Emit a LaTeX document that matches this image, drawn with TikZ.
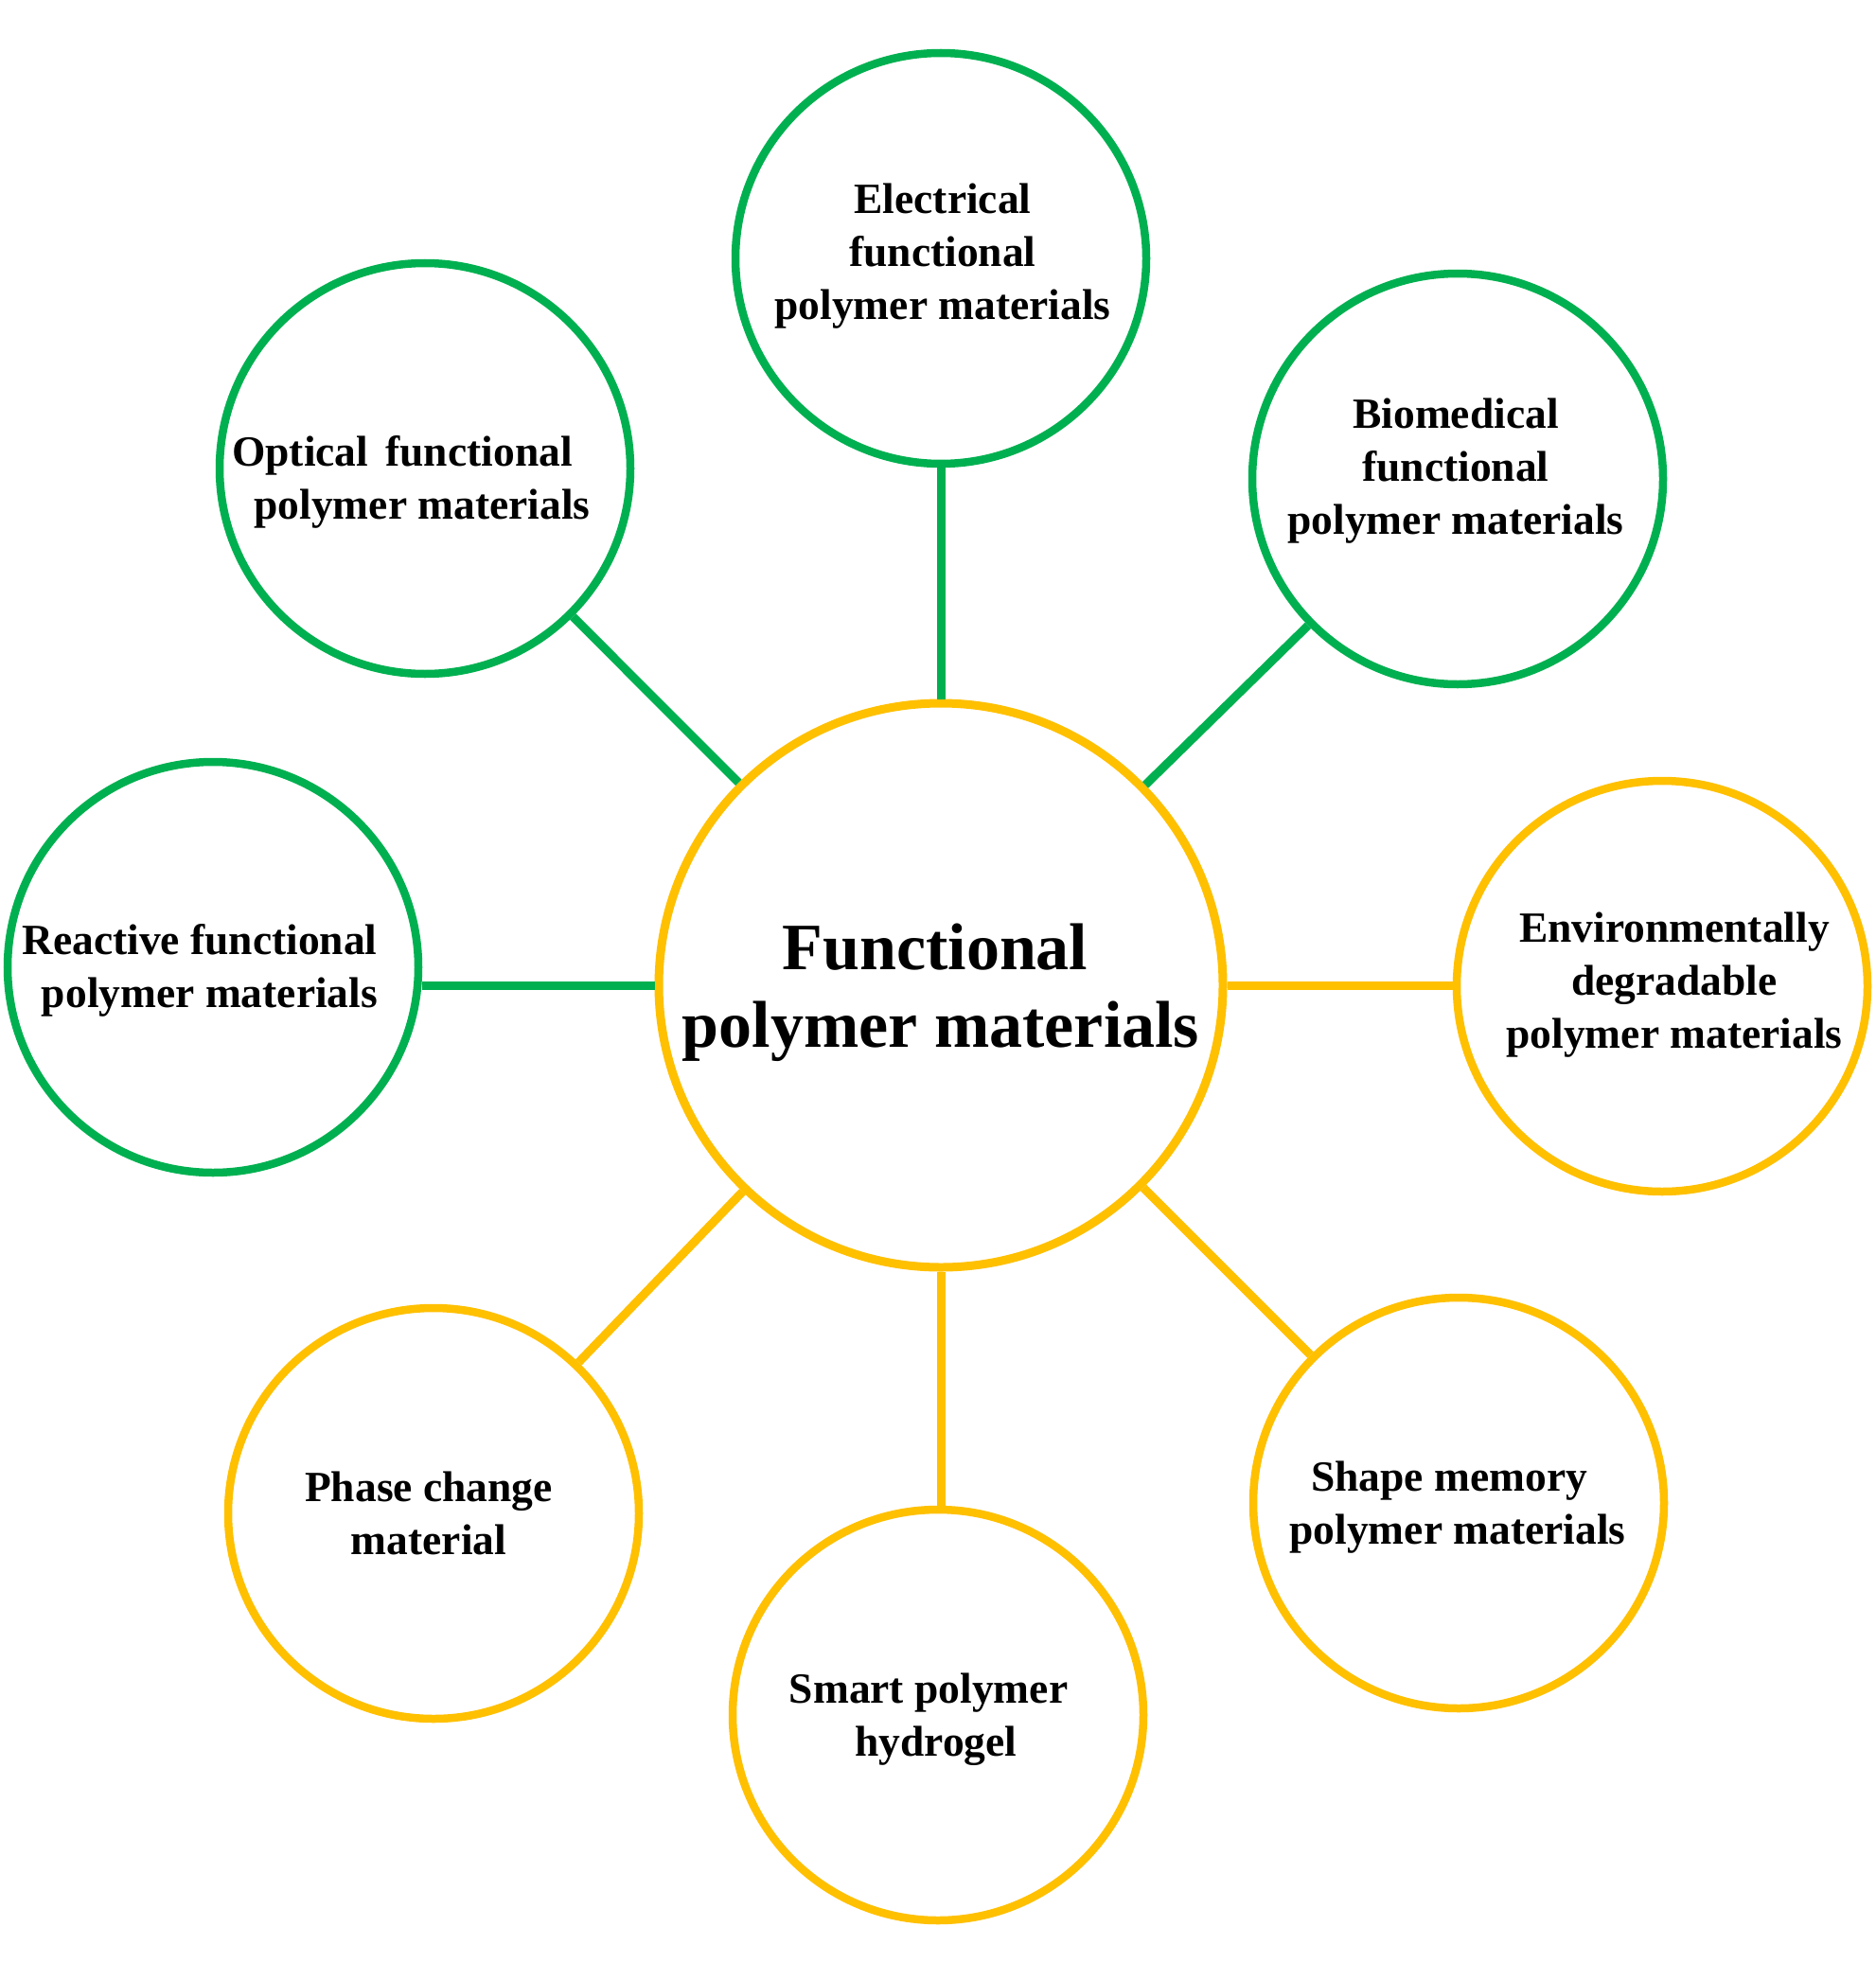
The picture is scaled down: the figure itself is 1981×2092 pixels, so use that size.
\documentclass[tikz,border=0pt]{standalone}
\usepackage{fontspec}
\setmainfont{Liberation Serif}
\definecolor{gcol}{HTML}{00B050}
\definecolor{ycol}{HTML}{FFC000}
\begin{document}
\begin{tikzpicture}[x=1pt,y=-1pt,
  gcirc/.style={circle, draw=gcol, line width=8.5pt, minimum size=434pt, inner sep=0pt},
  ycirc/.style={circle, draw=ycol, line width=8.5pt, minimum size=434pt, inner sep=0pt},
  maincirc/.style={circle, draw=ycol, line width=9pt, minimum size=596pt, inner sep=0pt},
  lbl/.style={align=center, font=\bfseries\fontsize{45.5}{56}\selectfont, inner sep=0pt},
  mainlbl/.style={align=center, font=\bfseries\fontsize{70}{82}\selectfont, inner sep=0pt},
  gline/.style={draw=gcol, line width=9pt},
  yline/.style={draw=ycol, line width=9pt}]
\useasboundingbox (0,0) rectangle (1981,2092);
\fill[white] (0,0) rectangle (1981,2092);

% circles
\node[maincirc] (central) at (994,1041) {};
\node[gcirc] (elec) at (994,273) {};
\node[gcirc] (optic) at (449,495) {};
\node[gcirc] (bio) at (1540,506) {};
\node[gcirc] (react) at (225,1022) {};
\node[ycirc] (env) at (1756,1042) {};
\node[ycirc] (phase) at (458,1599) {};
\node[ycirc] (smart) at (991,1812) {};
\node[ycirc] (shape) at (1541,1588) {};

% connectors
\draw[gline] (central) -- (elec);
\draw[gline] (central) -- (optic);
\draw[gline] (central) -- (bio);
\draw[gline] (central.west) -- (central.west -| react.east);
\draw[yline] (central.east) -- (central.east -| env.west);
\draw[yline] (central) -- (phase);
\draw[yline] (central.south) -- (central.south |- smart.north);
\draw[yline] (central) -- (shape);

% texts
\node[mainlbl] (central-t) at (988,1049) {Functional\\\hspace*{12pt}polymer materials};
\node[lbl] (elec-t) at (996,271) {Electrical\\functional\\polymer materials};
\node[lbl] (optic-t) at (425,509) {Optical\hspace{0.4em}functional\\\hspace*{42pt}polymer materials};
\node[lbl] (bio-t) at (1538,498) {Biomedical\\functional\\polymer materials};
\node[lbl] (react-t) at (211,1025) {Reactive functional\\\hspace*{21pt}polymer materials};
\node[lbl] (env-t) at (1769,1041) {Environmentally\\degradable\\polymer materials};
\node[lbl] (phase-t) at (453,1599) {Phase change\\material};
\node[lbl] (smart-t) at (981,1817) {Smart polymer\\\hspace*{16pt}hydrogel};
\node[lbl] (shape-t) at (1531,1593) {Shape memory\\\hspace*{18pt}polymer materials};
\end{tikzpicture}
\end{document}
